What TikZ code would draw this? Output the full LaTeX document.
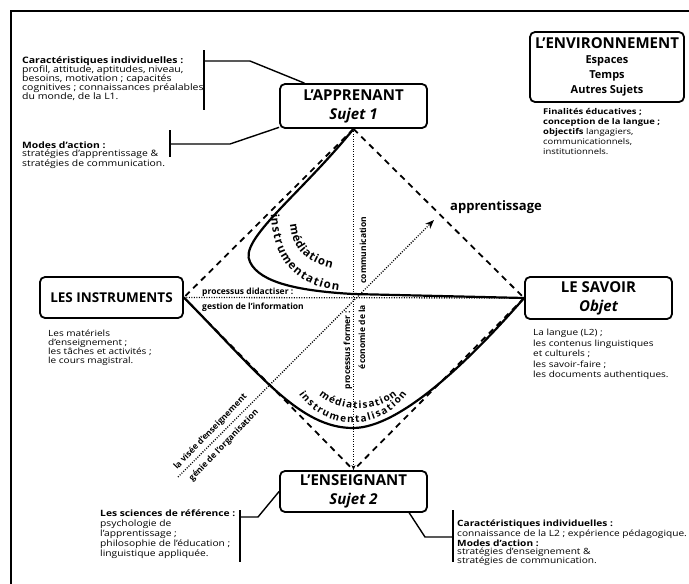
\documentclass[tikz,border=0pt]{standalone}
\usepackage{fontspec}
\setmainfont{Open Sans}
\newfontfamily\smallf{Open Sans}[FakeStretch=1.18]
\usetikzlibrary{arrows.meta,decorations.text}
\newcommand\curvefont{\bfseries\fontsize{11.5}{12}\selectfont}
\newcommand\curvefontb{\bfseries\fontsize{10}{10}\selectfont}
\newcommand\envsub{\fontsize{11}{14.5}\selectfont}
\begin{document}
\begin{tikzpicture}[x=1pt,y=-1pt,
  box/.style={draw,line width=1.8pt,rounded corners=5pt,inner sep=0pt,align=center,
    font=\bfseries\fontsize{15}{19}\selectfont},
  conn/.style={line width=1.4pt},
  dashline/.style={line width=1.8pt,dash pattern=on 6pt off 5pt},
  dotline/.style={line width=1.3pt,dash pattern=on 1pt off 1.5pt},
  curveline/.style={line width=2.2pt},
  txt/.style={anchor=north west,inner sep=0pt,align=left},
  lbl/.style={inner sep=0pt,font=\bfseries\fontsize{8.5}{9}\selectfont},
  ctext/.style={decorate,decoration={text along path,text align=fit to path,text={#1}}},
]
\useasboundingbox (0,0) rectangle (689,584);
\fill[white] (0,0) rectangle (689,584);
% outer frame
\draw[line width=2.2pt] (11,584) -- (11,11) -- (689,11);

% boxes
\node[box,minimum width=147pt,minimum height=44pt] (app) at (353.5,106) {L’APPRENANT\\\itshape Sujet 1};
\node[box,minimum width=143pt,minimum height=41pt,font=\bfseries\fontsize{13.5}{16}\selectfont] (inst) at (111.5,297.5) {LES INSTRUMENTS};
\node[box,minimum width=147pt,minimum height=42pt] (sav) at (598.5,298) {LE SAVOIR\\\itshape Objet};
\node[box,minimum width=147pt,minimum height=41pt] (ens) at (353.5,491.5) {L’ENSEIGNANT\\\itshape Sujet 2};
\node[box,minimum width=154pt,minimum height=70pt,font=\bfseries\fontsize{15}{15}\selectfont] (env) at (607,67)
  {L’ENVIRONNEMENT\\\envsub Espaces\\\envsub Temps\\\envsub Autres Sujets};

% dashed diamond
\draw[dashline] (app.south) -- (inst.east);
\draw[dashline] (app.south) -- (sav.west);
\draw[dashline] (inst.east) -- (ens.north);
\draw[dashline] (sav.west) -- (ens.north);

% dotted axes
\draw[dotline] (inst.east) -- (sav.west);
\draw[dotline,-{Stealth[length=5pt,width=4pt]}] (app.south) -- (ens.north);
\coordinate (dstart) at (178,477);
\coordinate (dend) at (434,220);
\draw[dotline,-{Stealth[length=9pt,width=7pt]}] (dstart) -- (dend);

% solid curves
\draw[curveline] (app.south) .. controls (300,195) and (238,240) .. (250,262)
  .. controls (260,283) and (300,291) .. (353,294) -- (sav.west);
\draw[curveline] (inst.east) .. controls (260,375) and (300,428) .. (353,428)
  .. controls (400,428) and (470,360) .. (sav.west);

% curved labels
\path[ctext={|\curvefont|instrumentation}] (271,214) .. controls (273,258) and (292,285) .. (339,291);
\path[ctext={|\curvefont|médiation}] (290,224) .. controls (292,248) and (305,262) .. (332,268);
\path[ctext={|\curvefontb|instrumentalisation}] (299,394) .. controls (325,432) and (380,432) .. (407,394);
\path[ctext={|\curvefontb|médiatisation}] (319,395) .. controls (338,412) and (375,414) .. (397,395);

% straight labels
\node[lbl,anchor=west] (pd) at (202,292) {processus didactiser :};
\node[lbl,anchor=west] (gi) at (202,307) {gestion de l’information};
\node[lbl,rotate=90] (com) at (363,250) {communication};
\node[lbl,rotate=90] (pf) at (348,350) {processus former :};
\node[lbl,rotate=90] (eco) at (362,337) {économie de la};
\node[lbl,rotate=46] (vis) at (210.5,432) {la visée d’enseignement};
\node[lbl,rotate=46] (gen) at (224,445.5) {génie de l’organisation};
\node[inner sep=0pt,font=\bfseries\fontsize{13}{14}\selectfont] (appr) at (496,207) {apprentissage};

% text blocks
\node[txt,font=\smallf\fontsize{8.9}{9}\selectfont] (t1) at (22,56)
 {\textbf{Caractéristiques individuelles :}\\
  profil, attitude, aptitudes, niveau,\\
  besoins, motivation ; capacités\\
  cognitives ; connaissances préalables\\
  du monde, de la L1.};
\node[txt,font=\smallf\fontsize{8.8}{8}\selectfont] (t2) at (22,142)
 {\textbf{Modes d’action :}\\
  stratégies d’apprentissage \&\\
  stratégies de communication.};
\node[txt,font=\smallf\fontsize{8}{10}\selectfont] (t3) at (543,108)
 {\textbf{Finalités éducatives ;}\\
  \textbf{conception de la langue ;}\\
  \textbf{objectifs} langagiers,\\
  communicationnels,\\
  institutionnels.};
\node[txt,font=\smallf\fontsize{8.5}{9}\selectfont] (t4) at (48,330)
 {Les matériels\\
  d’enseignement ;\\
  les tâches et activités ;\\
  le cours magistral.};
\node[txt,font=\smallf\fontsize{8.5}{10.5}\selectfont] (t5) at (533,329)
 {La langue (L2) ;\\
  les contenus linguistiques\\
  et culturels ;\\
  les savoir-faire ;\\
  les documents authentiques.};
\node[txt,font=\smallf\fontsize{8.7}{10}\selectfont] (t6) at (100,510)
 {\textbf{Les sciences de référence :}\\
  psychologie de\\
  l’apprentissage ;\\
  philosophie de l’éducation ;\\
  linguistique appliquée.};
\node[txt,font=\smallf\fontsize{8.6}{8.2}\selectfont] (t7) at (457,520)
 {\textbf{Caractéristiques individuelles :}\\
  connaissance de la L2 ; expérience pédagogique.\\
  \textbf{Modes d’action :}\\
  stratégies d’enseignement \&\\
  stratégies de communication.};

% brackets
\coordinate (b1t) at (204,50);
\coordinate (b1b) at (204,110);
\coordinate (b1m) at (204,61);
\coordinate (b1k) at (250,61);
\draw[conn] (b1t) -- (b1b);
\draw[conn] (b1m) -- (b1k) -- (app.155);
\coordinate (b2t) at (170,130);
\coordinate (b2b) at (170,157);
\coordinate (b2m) at (170,144);
\coordinate (b2k) at (230,144);
\draw[conn] (b2t) -- (b2b);
\draw[conn] (b2m) -- (b2k) -- (app.196);
\coordinate (b3t) at (240,510);
\coordinate (b3b) at (240,562);
\coordinate (b3m) at (240,517);
\coordinate (b3k) at (258,517);
\draw[conn] (b3t) -- (b3b);
\draw[conn] (b3m) -- (b3k) -- (ens.west);
\coordinate (b4t) at (453,510);
\coordinate (b4b) at (453,562);
\coordinate (b4m) at (453,537);
\coordinate (b4k) at (425,537);
\draw[conn] (b4t) -- (b4b);
\draw[conn] (b4m) -- (b4k) -- (ens.-21);
\end{tikzpicture}
\end{document}
